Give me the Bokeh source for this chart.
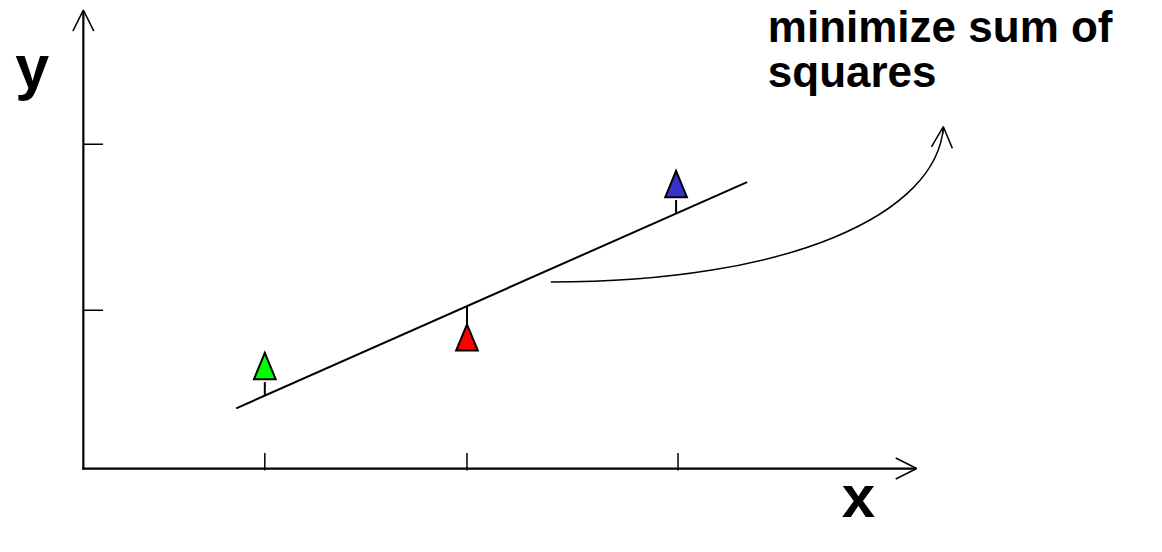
from bokeh.plotting import figure
from bokeh.models import Range1d, Arrow, OpenHead
from bokeh.core.properties import value
from bokeh.embed import file_html
from bokeh.resources import INLINE
import numpy as np

# ---- data (diagram units, origin at axis corner) ----
point_x = [184, 389, 601]
point_y = [105.5, 135, 293]
point_colors = ["#00FF00", "#FF0000", "#3333CC"]

fit_x = [155, 673]
fit_y = [62, 295]

x_tick_pos = [184, 389, 603]
y_tick_pos = [163, 334]

axis_x_end = 845
axis_y_end = 472

curve_start = (474, 192)
curve_c0 = (716, 192)
curve_c1 = (866, 262)
curve_end = (872, 352)

label_lines = ["minimize sum of", "squares"]
label_x = 694
label_y = [455, 409]

x_label = "x"
y_label = "y"

# ---- figure ----
W, H = 1146, 536
p = figure(width=W, height=H, output_backend="svg", toolbar_location=None,
           x_range=Range1d(-84, 1078), y_range=Range1d(-70, 482),
           min_border=0, min_border_left=0, min_border_right=0,
           min_border_top=0, min_border_bottom=0)
p.axis.visible = False
p.grid.visible = False
p.outline_line_color = None
p.background_fill_color = "white"
p.border_fill_color = "white"

# axes with open arrow heads
p.add_layout(Arrow(end=OpenHead(size=21, line_width=1.5, line_color="black"),
                   x_start=-1, y_start=0, x_end=axis_x_end, y_end=0,
                   line_width=2.2, line_color="black"))
p.add_layout(Arrow(end=OpenHead(size=21, line_width=1.5, line_color="black"),
                   x_start=0, y_start=-1, x_end=0, y_end=axis_y_end,
                   line_width=2.2, line_color="black"))

# ticks
tick_len = 16
p.segment(x0=x_tick_pos, y0=[-2] * len(x_tick_pos), x1=x_tick_pos,
          y1=[tick_len] * len(x_tick_pos), line_color="black", line_width=1.5)
p.segment(x0=[0] * len(y_tick_pos), y0=y_tick_pos, x1=[20] * len(y_tick_pos),
          y1=y_tick_pos, line_color="black", line_width=1.5)

# fitted line
p.line(fit_x, fit_y, line_color="black", line_width=2)

# residuals + triangles
hw, hh, gap = 11, 13.5, 3
px = np.array(point_x, dtype=float)
py = np.array(point_y, dtype=float)
line_at = np.interp(px, fit_x, fit_y)
above = py > line_at
res_end = np.where(above, py - hh - gap, py + hh)
p.segment(x0=px, y0=line_at, x1=px, y1=res_end, line_color="black", line_width=2)

tri_xs = [[x - hw, x + hw, x] for x in px]
tri_ys = [[y - hh, y - hh, y + hh] for y in py]
p.patches(tri_xs, tri_ys, fill_color=point_colors, line_color="black",
          line_width=2, line_join="miter")

# curved arrow
p.bezier(x0=[curve_start[0]], y0=[curve_start[1]], x1=[curve_end[0]], y1=[curve_end[1]],
         cx0=[curve_c0[0]], cy0=[curve_c0[1]], cx1=[curve_c1[0]], cy1=[curve_c1[1]],
         line_color="black", line_width=1.5)
tx = curve_end[0] - 0.08 * (curve_end[0] - curve_c1[0])
ty = curve_end[1] - 0.08 * (curve_end[1] - curve_c1[1])
p.add_layout(Arrow(end=OpenHead(size=21, line_width=1.5, line_color="black"),
                   x_start=tx, y_start=ty, x_end=curve_end[0], y_end=curve_end[1],
                   line_width=1.5, line_color="black"))

# texts
font = value("Liberation Sans")
p.text(x=[label_x] * len(label_lines), y=label_y, text=label_lines,
       text_font=font, text_font_style="bold", text_font_size="44px",
       text_color="black", text_align="left", text_baseline="alphabetic")
p.text(x=[-69], y=[414], text=[y_label], text_font=font, text_font_style="bold",
       text_font_size="61px", text_color="black", text_align="left",
       text_baseline="alphabetic")
p.text(x=[786], y=[-29], text=[x_label], text_font=font, text_font_style="bold",
       text_font_size="60px", text_color="black", text_align="center",
       text_baseline="alphabetic")

open("out.html", "w").write(file_html(p, INLINE))
